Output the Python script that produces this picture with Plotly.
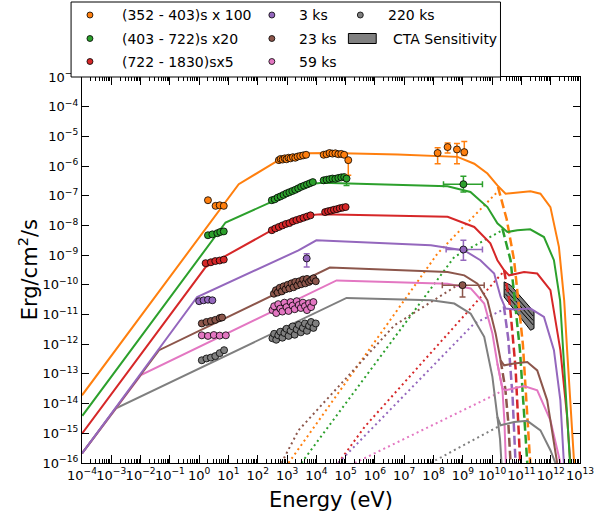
import numpy as np
import plotly.graph_objects as go

# ---------------------------------------------------------------------------
# Colours (one per epoch)
# ---------------------------------------------------------------------------
C_ORANGE = "#ff7f0e"
C_GREEN = "#2ca02c"
C_RED = "#d62728"
C_PURPLE = "#9467bd"
C_BROWN = "#8c564b"
C_PINK = "#e377c2"
C_GRAY = "#7f7f7f"

# ---------------------------------------------------------------------------
# Model curves, log10(E / eV) and log10(nuFnu / erg cm^-2 s^-1)
# total = synchrotron + SSC, syn = synchrotron tail, ssc = SSC component
# ---------------------------------------------------------------------------
ORANGE_TOT_LE = [-4.00, 1.35, 2.71, 3.66, 4.52, 6.78, 8.82, 9.39, 9.84, 10.18, 10.46, 10.86, 11.31, 11.65, 11.99, 12.28, 12.46, 12.56, 12.66, 12.80]
ORANGE_TOT_LF = [-13.72, -6.61, -5.80, -5.57, -5.56, -5.61, -5.69, -5.92, -6.25, -6.65, -6.93, -6.89, -6.85, -6.93, -7.38, -8.72, -10.52, -12.20, -13.89, -16.0]
GREEN_TOT_LE = [-3.99, 0.90, 2.60, 3.67, 4.20, 4.51, 8.48, 9.26, 9.84, 10.18, 10.52, 10.86, 11.30, 11.77, 12.11, 12.32, 12.49, 12.66]
GREEN_TOT_LF = [-14.41, -7.90, -7.15, -6.62, -6.56, -6.57, -6.68, -6.87, -7.38, -7.93, -8.22, -8.16, -8.13, -8.39, -9.17, -10.52, -13.21, -16.0]
RED_TOT_LE = [-4.00, 0.22, 2.48, 3.67, 4.17, 6.78, 8.48, 9.39, 9.94, 10.18, 10.41, 10.58, 11.09, 11.54, 11.99, 12.33, 12.56, 12.67]
RED_TOT_LF = [-15.01, -9.40, -8.16, -7.66, -7.62, -7.66, -7.71, -8.05, -8.60, -9.17, -9.51, -9.68, -9.57, -9.62, -10.18, -12.20, -14.45, -16.0]
PURPLE_TOT_LE = [-4.00, -0.07, 3.39, 4.00, 7.91, 9.05, 9.60, 10.07, 10.29, 10.46, 10.75, 11.31, 11.77, 12.11, 12.33, 12.45]
PURPLE_TOT_LF = [-15.68, -10.41, -8.84, -8.50, -8.67, -8.84, -9.17, -9.62, -10.41, -10.80, -10.83, -10.80, -11.08, -12.20, -13.89, -16.0]
BROWN_TOT_LE = [-4.00, -1.37, 4.46, 8.48, 9.05, 9.50, 9.84, 10.12, 10.29, 10.41, 10.75, 11.20, 11.54, 11.88, 12.22]
BROWN_TOT_LF = [-15.68, -12.20, -9.42, -9.57, -9.68, -9.96, -10.52, -11.64, -12.54, -12.71, -12.65, -12.60, -12.88, -13.89, -16.0]
PINK_TOT_LE = [-4.00, -1.99, 4.69, 8.48, 9.27, 9.73, 10.01, 10.18, 10.35, 10.46, 11.09, 11.54, 11.99, 12.33]
PINK_TOT_LF = [-15.68, -13.04, -9.85, -9.96, -10.12, -10.63, -11.64, -12.65, -13.49, -13.55, -13.41, -13.55, -14.56, -16.0]
GRAY_TOT_LE = [-4.00, -2.84, 5.03, 7.92, 8.71, 9.27, 9.73, 10.01, 10.18, 10.29, 10.75, 11.20, 11.65, 11.99, 12.16]
GRAY_TOT_LF = [-15.68, -14.16, -10.44, -10.52, -10.63, -10.97, -11.75, -13.10, -14.45, -14.73, -14.62, -14.58, -14.90, -15.57, -16.0]

# synchrotron cut-off tails
ORANGE_SYN_LE = [10.20, 10.50, 10.75, 11.05, 11.30]
ORANGE_SYN_LF = [-6.70, -7.80, -9.17, -12.00, -16.0]
GREEN_SYN_LE = [10.35, 10.63, 10.95, 11.20]
GREEN_SYN_LF = [-8.10, -9.17, -12.20, -16.0]
RED_SYN_LE = [10.41, 10.60, 10.80, 10.96]
RED_SYN_LF = [-9.51, -10.60, -12.80, -16.0]
PURPLE_SYN_LE = [10.40, 10.55, 10.70, 10.80]
PURPLE_SYN_LF = [-10.72, -11.80, -13.80, -16.0]
BROWN_SYN_LE = [10.29, 10.45, 10.55, 10.63]
BROWN_SYN_LF = [-12.54, -13.50, -14.60, -16.0]
PINK_SYN_LE = [10.18, 10.35, 10.42, 10.47]
PINK_SYN_LF = [-12.65, -13.49, -14.60, -16.0]
GRAY_SYN_LE = [10.18, 10.27, 10.32]
GRAY_SYN_LF = [-14.45, -15.20, -16.0]

# SSC components
ORANGE_SSC_LE = [3.05, 8.14, 10.20]
ORANGE_SSC_LF = [-16.0, -8.94, -6.85]
GREEN_SSC_LE = [3.49, 8.71, 10.35]
GREEN_SSC_LF = [-16.0, -9.06, -8.16]
RED_SSC_LE = [4.75, 5.65, 10.35]
RED_SSC_LF = [-16.0, -14.78, -9.60]
PURPLE_SSC_LE = [4.75, 9.39, 10.35]
PURPLE_SSC_LF = [-16.0, -11.30, -10.85]
BROWN_SSC_LE = [2.81, 3.39, 6.67, 8.82]
BROWN_SSC_LF = [-16.0, -14.90, -11.36, -10.01]
PINK_SSC_LE = [5.31, 10.18, 10.35]
PINK_SSC_LF = [-16.0, -13.66, -13.55]
GRAY_SSC_LE = [7.90, 10.18, 10.29]
GRAY_SSC_LF = [-16.0, -14.78, -14.73]

# ---------------------------------------------------------------------------
# Observed fluxes (UVOT, XRT, BAT), log10 values
# ---------------------------------------------------------------------------
ORANGE_OBS_LE = [0.30, 0.56, 0.70, 0.84,
                 2.72, 2.78, 2.85, 2.92, 2.98, 3.05, 3.12, 3.20, 3.28, 3.36, 3.45, 3.55, 3.65,
                 4.25, 4.35, 4.45, 4.55, 4.65, 4.75, 4.85, 4.95]
ORANGE_OBS_LF = [-7.15, -7.34, -7.32, -7.34,
                 -5.80, -5.76, -5.78, -5.74, -5.77, -5.72, -5.74, -5.70, -5.72, -5.68, -5.66, -5.64, -5.62,
                 -5.62, -5.60, -5.56, -5.58, -5.57, -5.60, -5.59, -5.62]
GREEN_OBS_LE = [0.30, 0.45, 0.62, 0.72, 0.84,
                2.48, 2.58, 2.68, 2.78, 2.88, 2.98, 3.08, 3.18, 3.28, 3.38, 3.48, 3.58, 3.68, 3.78, 3.88,
                4.25, 4.35, 4.45, 4.55, 4.65, 4.75, 4.85, 4.95]
GREEN_OBS_LF = [-8.33, -8.30, -8.26, -8.22, -8.20,
                -7.15, -7.12, -7.06, -7.02, -6.97, -6.92, -6.88, -6.84, -6.80, -6.75, -6.70, -6.66, -6.62, -6.58, -6.54,
                -6.48, -6.46, -6.44, -6.42, -6.43, -6.40, -6.38, -6.37]
RED_OBS_LE = [0.22, 0.40, 0.55, 0.70, 0.84,
              2.48, 2.60, 2.72, 2.84, 2.96, 3.08, 3.20, 3.32, 3.44, 3.56, 3.68, 3.80,
              4.30, 4.40, 4.50, 4.60, 4.70, 4.80, 4.90, 5.00]
RED_OBS_LF = [-9.27, -9.24, -9.20, -9.18, -9.15,
              -8.16, -8.10, -8.05, -8.00, -7.95, -7.92, -7.86, -7.82, -7.78, -7.74, -7.70, -7.66,
              -7.55, -7.52, -7.50, -7.47, -7.45, -7.42, -7.40, -7.38]
PURPLE_OBS_LE = [0.00, 0.15, 0.30, 0.45]
PURPLE_OBS_LF = [-10.55, -10.52, -10.50, -10.52]
BROWN_OBS_LE = [0.09, 0.25, 0.40, 0.55, 0.70, 0.78,
                2.55, 2.62, 2.68, 2.75, 2.82, 2.88, 2.95, 3.02, 3.08, 3.15, 3.22,
                3.28, 3.35, 3.42, 3.48, 3.55, 3.62, 3.68, 3.75, 3.82, 3.90, 3.98]
BROWN_OBS_LF = [-11.30, -11.25, -11.22, -11.18, -11.12, -11.10,
                -10.30, -10.18, -10.26, -10.10, -10.22, -10.05, -10.15, -10.00, -10.12, -9.95, -10.08,
                -9.90, -10.02, -9.88, -9.98, -9.82, -9.95, -9.80, -9.90, -9.85, -9.78, -9.88]
PINK_OBS_LE = [0.09, 0.30, 0.50, 0.70, 0.91,
               2.50, 2.56, 2.63, 2.70, 2.77, 2.84, 2.91, 2.98, 3.05, 3.12, 3.19,
               3.26, 3.33, 3.40, 3.47, 3.54, 3.61, 3.68, 3.75, 3.82, 3.90]
PINK_OBS_LF = [-11.70, -11.72, -11.69, -11.71, -11.70,
               -10.85, -10.72, -10.95, -10.65, -10.80, -10.90, -10.60, -10.75, -10.88, -10.58, -10.70,
               -10.82, -10.55, -10.68, -10.78, -10.60, -10.72, -10.85, -10.62, -10.75, -10.58]
GRAY_OBS_LE = [0.09, 0.25, 0.40, 0.55, 0.70, 0.85,
               2.50, 2.56, 2.63, 2.70, 2.77, 2.84, 2.91, 2.98, 3.05, 3.12, 3.19,
               3.26, 3.33, 3.40, 3.47, 3.54, 3.61, 3.68, 3.75, 3.82, 3.90, 3.98]
GRAY_OBS_LF = [-12.54, -12.48, -12.45, -12.40, -12.30, -12.20,
               -11.80, -11.65, -11.85, -11.70, -11.58, -11.78, -11.62, -11.48, -11.72, -11.55, -11.40,
               -11.68, -11.50, -11.35, -11.60, -11.45, -11.30, -11.55, -11.38, -11.25, -11.45, -11.30]

# Points with error bars: log10 E, log10 F, lower/upper log10 F, lower/upper log10 E
ORANGE_ERR_LE = [5.09, 8.14, 8.48, 8.80, 9.05]
ORANGE_ERR_LF = [-5.80, -5.56, -5.36, -5.44, -5.53]
ORANGE_ERR_LO = [-6.31, -5.92, -5.56, -5.92, -5.64]
ORANGE_ERR_HI = [-5.78, -5.38, -5.22, -5.24, -5.17]
GREEN_ERR_LE = [5.03, 9.02]
GREEN_ERR_LF = [-6.42, -6.61]
GREEN_ERR_LO = [-6.65, -6.87]
GREEN_ERR_HI = [-6.40, -6.34]
GREEN_ERR_ELO = [5.03, 8.34]
GREEN_ERR_EHI = [5.03, 9.67]
PURPLE_ERR_LE = [3.67, 9.02]
PURPLE_ERR_LF = [-9.11, -8.81]
PURPLE_ERR_LO = [-9.40, -9.17]
PURPLE_ERR_HI = [-8.95, -8.50]
PURPLE_ERR_ELO = [3.67, 8.43]
PURPLE_ERR_EHI = [3.67, 9.67]
BROWN_ERR_LE = [8.99]
BROWN_ERR_LF = [-10.01]
BROWN_ERR_LO = [-10.41]
BROWN_ERR_HI = [-9.96]
BROWN_ERR_ELO = [8.30]
BROWN_ERR_EHI = [9.73]

# CTA sensitivity band outline and the power laws drawn inside it
CTA_LE = [10.41, 10.63, 11.43, 11.43, 11.31, 10.41, 10.41]
CTA_LF = [-9.90, -10.01, -10.91, -11.47, -11.53, -10.41, -9.90]
CTA_PL_LE = [10.45, 11.40]
CTA_PL1_LF = [-10.00, -11.05]
CTA_PL2_LF = [-10.15, -11.20]
CTA_PL3_LF = [-10.30, -11.35]

LEGEND_LABELS = ["(352 - 403)s x 100", "(403 - 722)s x20", "(722 - 1830)sx5",
                 "3 ks", "23 ks", "59 ks", "220 ks"]
LEGEND_COLORS = [C_ORANGE, C_GREEN, C_RED, C_PURPLE, C_BROWN, C_PINK, C_GRAY]
CTA_LABEL = "CTA Sensitivity"

X_EXP = list(range(-4, 14))
Y_EXP = list(range(-16, -2))


def p10(a):
    return 10.0 ** np.asarray(a, dtype=float)


fig = go.Figure()

# CTA band (under the model curves)
fig.add_trace(go.Scatter(x=p10(CTA_LE), y=p10(CTA_LF), mode="lines", fill="toself",
                         fillcolor="#808080", line=dict(color="black", width=1),
                         showlegend=False, hoverinfo="skip"))
for lf in (CTA_PL1_LF, CTA_PL2_LF, CTA_PL3_LF):
    fig.add_trace(go.Scatter(x=p10(CTA_PL_LE), y=p10(lf), mode="lines",
                             line=dict(color="black", width=1), showlegend=False, hoverinfo="skip"))

SSC = [(ORANGE_SSC_LE, ORANGE_SSC_LF, C_ORANGE), (GREEN_SSC_LE, GREEN_SSC_LF, C_GREEN),
       (RED_SSC_LE, RED_SSC_LF, C_RED), (PURPLE_SSC_LE, PURPLE_SSC_LF, C_PURPLE),
       (BROWN_SSC_LE, BROWN_SSC_LF, C_BROWN), (PINK_SSC_LE, PINK_SSC_LF, C_PINK),
       (GRAY_SSC_LE, GRAY_SSC_LF, C_GRAY)]
for le, lf, col in SSC:
    fig.add_trace(go.Scatter(x=p10(le), y=p10(lf), mode="lines",
                             line=dict(color=col, width=2, dash="2px,3.3px"),
                             showlegend=False, hoverinfo="skip"))

SYN = [(ORANGE_SYN_LE, ORANGE_SYN_LF, C_ORANGE, "9px,4px"), (GREEN_SYN_LE, GREEN_SYN_LF, C_GREEN, "9px,4px"),
       (RED_SYN_LE, RED_SYN_LF, C_RED, "9px,4px"), (PURPLE_SYN_LE, PURPLE_SYN_LF, C_PURPLE, "9px,4px"),
       (BROWN_SYN_LE, BROWN_SYN_LF, C_BROWN, "9px,4px"), (PINK_SYN_LE, PINK_SYN_LF, C_PINK, "solid"),
       (GRAY_SYN_LE, GRAY_SYN_LF, C_GRAY, "solid")]
for le, lf, col, dash in SYN:
    fig.add_trace(go.Scatter(x=p10(le), y=p10(lf), mode="lines",
                             line=dict(color=col, width=2.5 if dash != "solid" else 2, dash=dash),
                             showlegend=False, hoverinfo="skip"))

TOT = [(GRAY_TOT_LE, GRAY_TOT_LF, C_GRAY), (PINK_TOT_LE, PINK_TOT_LF, C_PINK),
       (BROWN_TOT_LE, BROWN_TOT_LF, C_BROWN), (PURPLE_TOT_LE, PURPLE_TOT_LF, C_PURPLE),
       (RED_TOT_LE, RED_TOT_LF, C_RED), (GREEN_TOT_LE, GREEN_TOT_LF, C_GREEN),
       (ORANGE_TOT_LE, ORANGE_TOT_LF, C_ORANGE)]
for le, lf, col in TOT:
    fig.add_trace(go.Scatter(x=p10(le), y=p10(lf), mode="lines",
                             line=dict(color=col, width=2), showlegend=False, hoverinfo="skip"))

MARKER = dict(size=7, line=dict(color="black", width=0.8))

OBS = [(ORANGE_OBS_LE, ORANGE_OBS_LF, C_ORANGE), (GREEN_OBS_LE, GREEN_OBS_LF, C_GREEN),
       (RED_OBS_LE, RED_OBS_LF, C_RED), (PURPLE_OBS_LE, PURPLE_OBS_LF, C_PURPLE),
       (BROWN_OBS_LE, BROWN_OBS_LF, C_BROWN), (PINK_OBS_LE, PINK_OBS_LF, C_PINK),
       (GRAY_OBS_LE, GRAY_OBS_LF, C_GRAY)]
for le, lf, col in OBS:
    fig.add_trace(go.Scatter(x=p10(le), y=p10(lf), mode="markers",
                             marker=dict(color=col, **MARKER), showlegend=False))


def err_trace(le, lf, lo, hi, col, elo=None, ehi=None):
    x = p10(le)
    y = p10(lf)
    ey = dict(type="data", symmetric=False, array=p10(hi) - y, arrayminus=y - p10(lo),
              color=col, thickness=1.5, width=3)
    ex = None
    if elo is not None:
        ex = dict(type="data", symmetric=False, array=p10(ehi) - x, arrayminus=x - p10(elo),
                  color=col, thickness=1.5, width=3)
    return go.Scatter(x=x, y=y, mode="markers", error_y=ey, error_x=ex,
                      marker=dict(color=col, **MARKER), showlegend=False)


fig.add_trace(err_trace(ORANGE_ERR_LE, ORANGE_ERR_LF, ORANGE_ERR_LO, ORANGE_ERR_HI, C_ORANGE))
fig.add_trace(err_trace(GREEN_ERR_LE, GREEN_ERR_LF, GREEN_ERR_LO, GREEN_ERR_HI, C_GREEN,
                        GREEN_ERR_ELO, GREEN_ERR_EHI))
fig.add_trace(err_trace(PURPLE_ERR_LE, PURPLE_ERR_LF, PURPLE_ERR_LO, PURPLE_ERR_HI, C_PURPLE,
                        PURPLE_ERR_ELO, PURPLE_ERR_EHI))
fig.add_trace(err_trace(BROWN_ERR_LE, BROWN_ERR_LF, BROWN_ERR_LO, BROWN_ERR_HI, C_BROWN,
                        BROWN_ERR_ELO, BROWN_ERR_EHI))

# ---------------------------------------------------------------------------
# Layout
# ---------------------------------------------------------------------------
W, H = 606, 516
ML, MR, MT, MB = 82, 23, 77, 53
PW, PH = W - ML - MR, H - MT - MB


def xp(px):
    return (px - ML) / PW


def yp(py):
    return (H - MB - py) / PH


FONT = "DejaVu Sans"
shapes = []
annotations = []

# legend frame
shapes.append(dict(type="rect", xref="paper", yref="paper", x0=xp(71), x1=xp(503), y0=yp(77), y1=yp(2),
                   line=dict(color="black", width=1), fillcolor="white", layer="above"))
col_marker_x = [90, 273, 362]
col_text_x = [120, 298, 388]
row_y = [15, 38.5, 61.5]
slots = [(0, 0), (0, 1), (0, 2), (1, 0), (1, 1), (1, 2), (2, 0)]
r = 3.0
for (c, rw), label, col in zip(slots, LEGEND_LABELS, LEGEND_COLORS):
    cx, cy = col_marker_x[c], row_y[rw]
    shapes.append(dict(type="circle", xref="paper", yref="paper",
                       x0=xp(cx - r), x1=xp(cx + r), y0=yp(cy + r), y1=yp(cy - r),
                       fillcolor=col, line=dict(color="black", width=0.8), layer="above"))
    annotations.append(dict(text=label, xref="paper", yref="paper", x=xp(col_text_x[c]), y=yp(cy),
                            xanchor="left", yanchor="middle", showarrow=False,
                            font=dict(family=FONT, size=14, color="black")))
shapes.append(dict(type="rect", xref="paper", yref="paper", x0=xp(350), x1=xp(378), y0=yp(43.5), y1=yp(33.5),
                   fillcolor="#808080", line=dict(color="black", width=1), layer="above"))
annotations.append(dict(text=CTA_LABEL, xref="paper", yref="paper", x=xp(393), y=yp(38.5),
                        xanchor="left", yanchor="middle", showarrow=False,
                        font=dict(family=FONT, size=14, color="black")))

# axis titles
annotations.append(dict(text="Energy (eV)", xref="paper", yref="paper", x=0.5, y=yp(500),
                        xanchor="center", yanchor="middle", showarrow=False,
                        font=dict(family=FONT, size=21, color="black")))
annotations.append(dict(text="Erg/cm<sup>2</sup>/s", xref="paper", yref="paper", x=xp(28), y=0.5,
                        xanchor="center", yanchor="middle", showarrow=False, textangle=-90,
                        font=dict(family=FONT, size=21, color="black")))

x_minor = [m * 10.0 ** e for e in range(-4, 13) for m in range(2, 10)]

axis_common = dict(type="log", showgrid=False, zeroline=False, showline=True, linecolor="black",
                   linewidth=1.3, mirror="allticks", ticks="inside", tickwidth=1,
                   tickcolor="black", tickfont=dict(family=FONT, size=13, color="black"))

fig.update_layout(
    width=W, height=H,
    margin=dict(l=ML, r=MR, t=MT, b=MB),
    paper_bgcolor="white", plot_bgcolor="white",
    showlegend=False,
    font=dict(family=FONT, color="black"),
    xaxis=dict(range=[-4, 13], tickvals=[10.0 ** e for e in X_EXP],
               ticktext=["10<sup>%s</sup>" % str(e).replace("-", "\u2212") for e in X_EXP],
               tickangle=0, ticklen=8,
               minor=dict(tickvals=x_minor, ticks="inside", ticklen=4, tickwidth=1, tickcolor="black",
                          showgrid=False),
               **axis_common),
    yaxis=dict(range=[-16, -3], tickvals=[10.0 ** e for e in Y_EXP],
               ticktext=["10<sup>%s</sup>" % str(e).replace("-", "\u2212") for e in Y_EXP],
               ticklen=7, **axis_common),
    shapes=shapes,
    annotations=annotations,
)

fig.write_html("out.html", config={"displayModeBar": False})
